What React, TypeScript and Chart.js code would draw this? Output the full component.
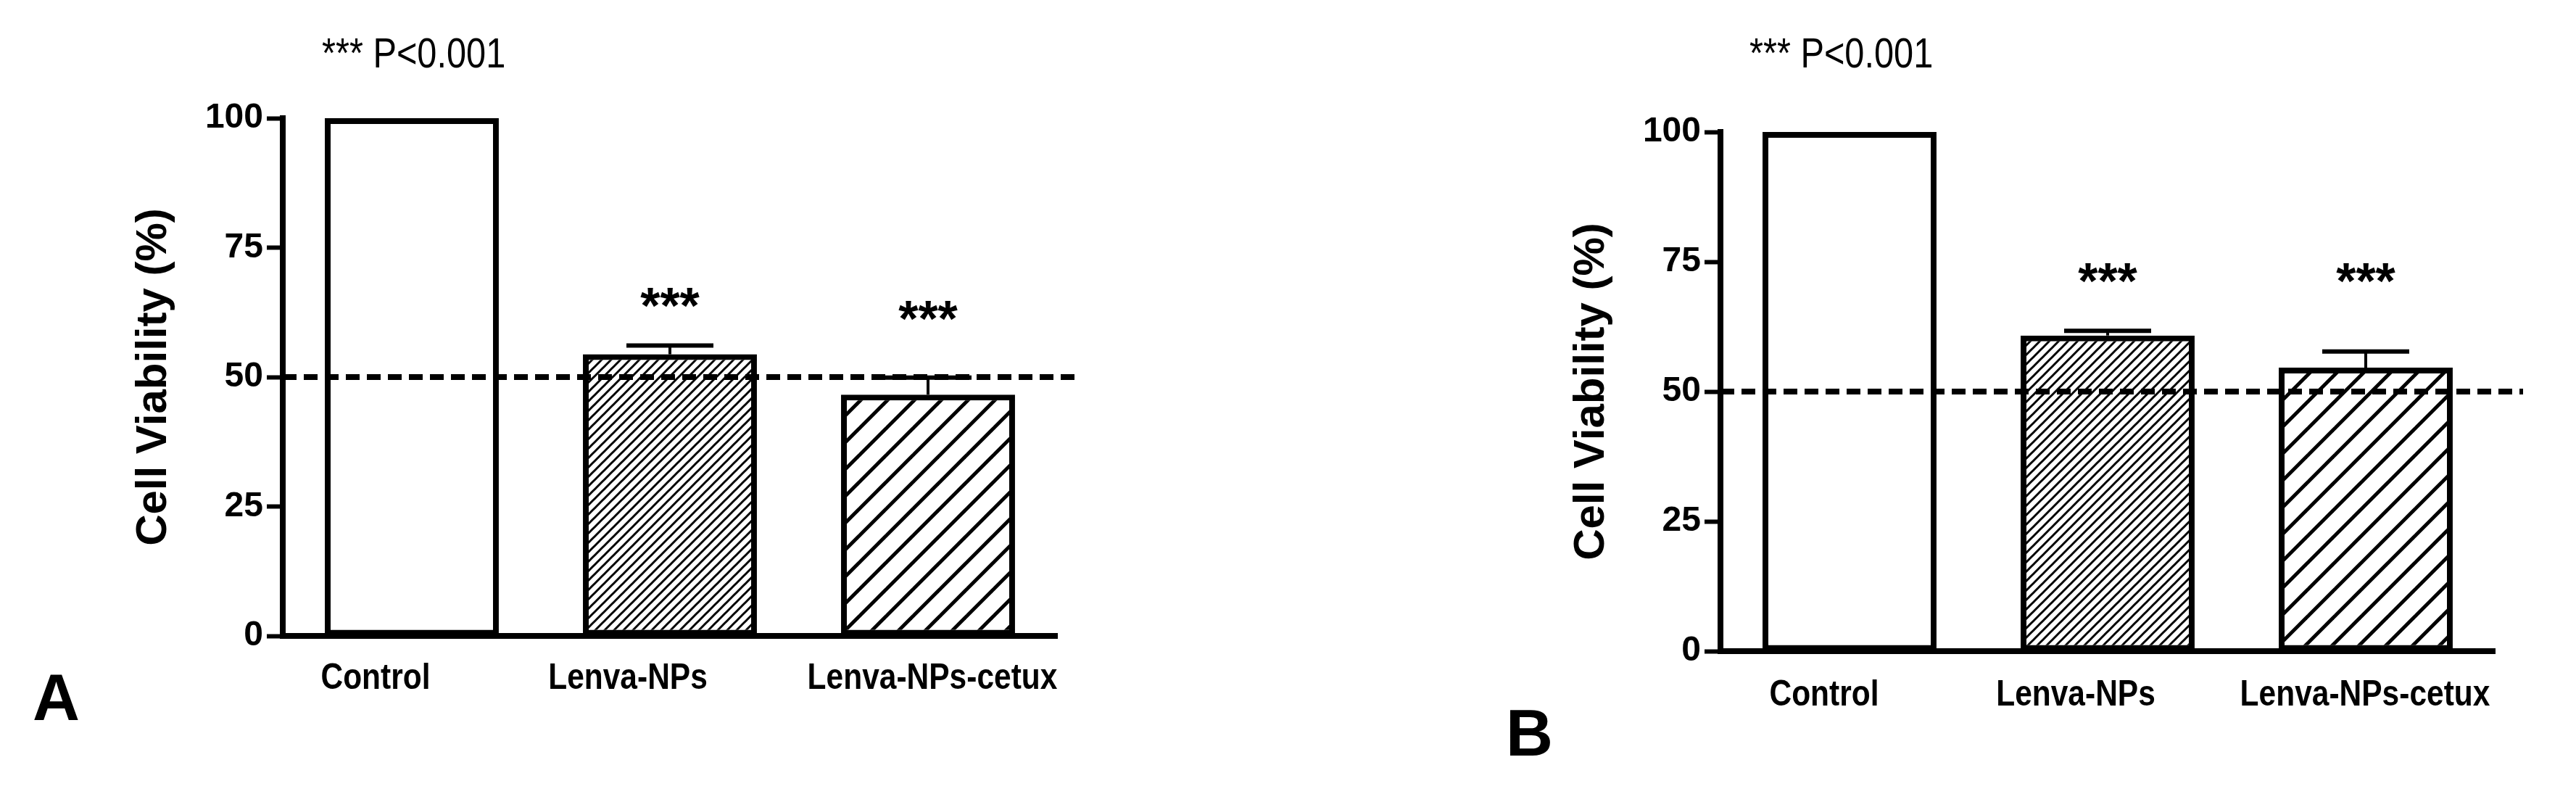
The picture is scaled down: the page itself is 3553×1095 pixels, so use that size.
import React, { useEffect, useRef } from "react";
import { Chart, registerables } from "chart.js";

Chart.register(...registerables);

// ---- data ----
const categories = ["Control", "Lenva-NPs", "Lenva-NPs-cetux"];
const yTicks = [0, 25, 50, 75, 100];
const thresholdValue = 50;
const pValueNote = "*** P<0.001";
const yTitle = "Cell Viability (%)";
const starText = ["", "***", "***"];

const viabilityA = [100, 54.4, 46.6];
const errorA = [0, 1.7, 3.3];
const starLevelA = [null, 66, 63.5];

const viabilityB = [100, 60.8, 54.6];
const errorB = [0, 0.9, 3.1];
const starLevelB = [null, 73.5, 73.5];

const FONT = "'Liberation Sans', Arial, Helvetica, sans-serif";

function makeHatch(spacing: number, lw: number): CanvasPattern | string {
  const c = document.createElement("canvas");
  c.width = spacing;
  c.height = spacing;
  const g = c.getContext("2d");
  if (!g) return "#fff";
  g.fillStyle = "#fff";
  g.fillRect(0, 0, spacing, spacing);
  g.strokeStyle = "#000";
  g.lineWidth = lw;
  g.lineCap = "square";
  // "/" lines: x + y = k*S
  for (const k of [0, 1, 2]) {
    g.beginPath();
    g.moveTo(k * spacing + spacing, -spacing);
    g.lineTo(k * spacing - 2 * spacing, 2 * spacing);
    g.stroke();
  }
  const p = g.createPattern(c, "repeat");
  return p || "#fff";
}

function condensedText(
  ctx: CanvasRenderingContext2D,
  text: string,
  x: number,
  y: number,
  sx: number
) {
  ctx.save();
  ctx.translate(x, y);
  ctx.scale(sx, 1);
  ctx.fillText(text, 0, 0);
  ctx.restore();
}

const annotPlugin = {
  id: "annot",
  afterDatasetsDraw(chart: any, _args: any, opts: any) {
    const ctx = chart.ctx as CanvasRenderingContext2D;
    const xs = chart.scales.x;
    const ys = chart.scales.y;
    const area = chart.chartArea;
    ctx.save();

    // threshold dashed line
    const yd = ys.getPixelForValue(thresholdValue);
    ctx.setLineDash([19, 10]);
    ctx.lineWidth = 8;
    ctx.strokeStyle = "#000";
    ctx.beginPath();
    ctx.moveTo(area.left, yd);
    ctx.lineTo(area.right + opts.dashExtend, yd);
    ctx.stroke();
    ctx.setLineDash([]);

    // error bars
    const meta = chart.getDatasetMeta(0);
    const vals: number[] = opts.values;
    const errs: number[] = opts.errors;
    vals.forEach((v, i) => {
      const e = errs[i];
      if (!e) return;
      const bar = meta.data[i];
      const cx = bar.x;
      const yTop = ys.getPixelForValue(v);
      const yErr = ys.getPixelForValue(v + e);
      ctx.lineWidth = 4;
      ctx.beginPath();
      ctx.moveTo(cx, yTop);
      ctx.lineTo(cx, yErr);
      ctx.stroke();
      ctx.lineWidth = 6;
      ctx.beginPath();
      ctx.moveTo(cx - 60, yErr);
      ctx.lineTo(cx + 60, yErr);
      ctx.stroke();
    });

    // significance stars
    ctx.fillStyle = "#000";
    ctx.textAlign = "center";
    ctx.textBaseline = "alphabetic";
    ctx.font = `bold 70px ${FONT}`;
    (opts.starLevels as (number | null)[]).forEach((lvl, i) => {
      if (lvl == null || !starText[i]) return;
      const cx = xs.getPixelForValue(i);
      const cy = ys.getPixelForValue(lvl);
      ctx.fillText(starText[i], cx, cy + 40);
    });

    // category labels (condensed bold)
    ctx.font = `bold 50px ${FONT}`;
    categories.forEach((c, i) => {
      const cx = xs.getPixelForValue(i) + opts.labelShift[i];
      condensedText(ctx, c, cx, area.bottom + opts.labelBaseline, 0.85);
    });

    // p-value note (condensed)
    ctx.textAlign = "left";
    ctx.font = `58px ${FONT}`;
    condensedText(ctx, pValueNote, opts.noteX, opts.noteY, 0.84);

    // panel letter
    ctx.font = `bold 90px ${FONT}`;
    ctx.fillText(opts.letter, opts.letterX, opts.letterY);

    ctx.restore();
  },
};

type PanelCfg = {
  values: number[];
  errors: number[];
  starLevels: (number | null)[];
  width: number;
  axisWidth: number;
  padTop: number;
  padRight: number;
  xAxisHeight: number;
  titlePad: number;
  dashExtend: number;
  labelShift: number[];
  labelBaseline: number;
  noteX: number;
  noteY: number;
  letter: string;
  letterX: number;
  letterY: number;
};

function Panel({ cfg }: { cfg: PanelCfg }) {
  const ref = useRef<HTMLCanvasElement | null>(null);
  useEffect(() => {
    if (!ref.current) return;
    const dense = makeHatch(13, 3);
    const wide = makeHatch(37, 5);
    const chart = new Chart(ref.current, {
      type: "bar",
      data: {
        labels: categories,
        datasets: [
          {
            data: cfg.values,
            backgroundColor: ["#ffffff", dense as any, wide as any],
            borderColor: "#000",
            borderWidth: 8,
            borderSkipped: false,
            barPercentage: 0.674,
            categoryPercentage: 1,
          },
        ],
      },
      options: {
        responsive: false,
        animation: false,
        devicePixelRatio: 1,
        layout: {
          padding: { left: 0, top: cfg.padTop, right: cfg.padRight, bottom: 0 },
        },
        plugins: {
          legend: { display: false },
          tooltip: { enabled: false },
          annot: cfg as any,
        } as any,
        scales: {
          x: {
            offset: true,
            grid: { display: false },
            border: { display: true, color: "#000", width: 8 },
            ticks: { display: false },
            afterFit: (s: any) => {
              s.height = cfg.xAxisHeight;
            },
          },
          y: {
            min: 0,
            max: 100,
            afterBuildTicks: (s: any) => {
              s.ticks = yTicks.map((v) => ({ value: v }));
            },
            afterFit: (s: any) => {
              s.width = cfg.axisWidth;
            },
            grid: {
              drawOnChartArea: false,
              drawTicks: true,
              tickLength: 22,
              tickWidth: 6,
              tickColor: "#000",
              color: "#000",
            },
            border: { display: true, color: "#000", width: 8 },
            ticks: {
              color: "#000",
              padding: 5,
              font: { family: FONT, size: 48, weight: "bold" },
            },
            title: {
              display: true,
              text: yTitle,
              color: "#000",
              font: { family: FONT, size: 60, weight: "bold" },
              padding: { top: cfg.titlePad, bottom: 0 },
            },
          },
        },
      },
      plugins: [annotPlugin as any],
    });
    return () => chart.destroy();
  }, [cfg]);
  return (
    <canvas
      ref={ref}
      width={cfg.width}
      height={1095}
      style={{ display: "block", width: cfg.width, height: 1095 }}
    />
  );
}

const cfgA: PanelCfg = {
  values: viabilityA,
  errors: errorA,
  starLevels: starLevelA,
  width: 1776,
  axisWidth: 390,
  padTop: 163,
  padRight: 318,
  xAxisHeight: 218,
  titlePad: 176,
  dashExtend: 32,
  labelShift: [-50, -58, 6],
  labelBaseline: 73,
  noteX: 444,
  noteY: 93,
  letter: "A",
  letterX: 45,
  letterY: 993,
};

const cfgB: PanelCfg = {
  values: viabilityB,
  errors: errorB,
  starLevels: starLevelB,
  width: 1777,
  axisWidth: 597,
  padTop: 182,
  padRight: 112,
  xAxisHeight: 197,
  titlePad: 383,
  dashExtend: 39,
  labelShift: [-35, -44, -1],
  labelBaseline: 75,
  noteX: 637,
  noteY: 93,
  letter: "B",
  letterX: 301,
  letterY: 1042,
};

export default function App() {
  return (
    <div
      style={{
        position: "absolute",
        left: 0,
        top: 0,
        width: 3553,
        height: 1095,
        display: "flex",
        background: "#fff",
      }}
    >
      <Panel cfg={cfgA} />
      <Panel cfg={cfgB} />
    </div>
  );
}
